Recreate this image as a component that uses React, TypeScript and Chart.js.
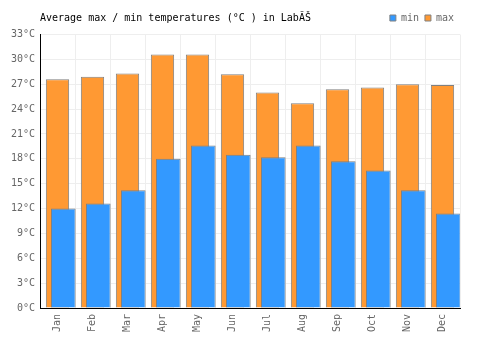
import React, { useEffect, useRef } from "react";
import { Chart, registerables } from "chart.js";

Chart.register(...registerables);

const months = ["Jan", "Feb", "Mar", "Apr", "May", "Jun", "Jul", "Aug", "Sep", "Oct", "Nov", "Dec"];
const maxTemps = [27.6, 27.9, 28.3, 30.6, 30.6, 28.2, 26.0, 24.7, 26.4, 26.6, 27.0, 26.9];
const minTemps = [12.0, 12.6, 14.2, 18.0, 19.6, 18.5, 18.2, 19.6, 17.7, 16.6, 14.2, 11.4];
const yMin = 0;
const yMax = 33;
const yStep = 3;
const unit = "°C";
const titleText = "Average max / min temperatures (°C ) in LabĂŠ";

const FONT = "'DejaVu Sans Mono', monospace";

const titlePlugin = {
  id: "leftTitle",
  afterDraw(chart: any) {
    const ctx = chart.ctx;
    ctx.save();
    ctx.font = "10px " + FONT;
    ctx.fillStyle = "#000";
    ctx.textBaseline = "middle";
    ctx.textAlign = "left";
    ctx.fillText(titleText, chart.chartArea.left, 18);
    ctx.restore();
  },
};

export default function App() {
  const ref = useRef<HTMLCanvasElement | null>(null);
  useEffect(() => {
    if (!ref.current) return;
    const shift = 0.166;
    const chart = new Chart(ref.current, {
      type: "bar",
      data: {
        labels: months,
        datasets: [
          {
            label: "min",
            data: minTemps.map((v, i) => ({ x: i, y: v })) as any,
            backgroundColor: "#3399ff",
            borderColor: "#808080",
            borderWidth: 1,
            xAxisID: "x2",
            grouped: false,
            categoryPercentage: 1,
            barPercentage: 0.705,
          },
          {
            label: "max",
            data: maxTemps,
            backgroundColor: "#ff9933",
            borderColor: "#808080",
            borderWidth: 1,
            xAxisID: "x",
            grouped: false,
            categoryPercentage: 1,
            barPercentage: 0.666,
          },
        ],
      },
      options: {
        responsive: false,
        animation: false,
        devicePixelRatio: 1,
        layout: { padding: { top: 7, right: 40, left: 0, bottom: 0 } },
        plugins: {
          title: { display: false },
          tooltip: { enabled: false },
          legend: {
            display: true,
            position: "top",
            align: "end",
            labels: {
              boxWidth: 6,
              boxHeight: 6,
              padding: 6,
              color: "#666",
              font: { family: FONT, size: 10 },
            },
          },
        },
        scales: {
          x: {
            type: "category",
            position: "bottom",
            offset: true,
            grid: { color: "#eeeeee", offset: true, drawTicks: false },
            border: { color: "#000", width: 1 },
            ticks: {
              color: "#666",
              font: { family: FONT, size: 10 },
              minRotation: 90,
              maxRotation: 90,
              padding: 6,
            },
            afterFit: (s: any) => {
              s.height = 42;
            },
          },
          x2: {
            type: "linear",
            position: "top",
            display: true,
            offset: false,
            bounds: "data",
            grace: 0,
            min: -0.5 - shift,
            max: months.length - 0.5 - shift,
            grid: { display: false, offset: false },
            border: { display: false },
            ticks: { display: false },
            afterFit: (s: any) => {
              s.height = 1.5;
            },
          },
          y: {
            min: yMin,
            max: yMax,
            grid: { color: "#eeeeee", drawTicks: false },
            border: { color: "#000", width: 1 },
            ticks: {
              stepSize: yStep,
              color: "#666",
              font: { family: FONT, size: 10 },
              padding: 5,
              callback: (v: any) => v + unit,
            },
            afterFit: (s: any) => {
              s.width = 40;
            },
          },
        },
      },
      plugins: [titlePlugin],
    });
    return () => chart.destroy();
  }, []);
  return (
    <div style={{ position: "absolute", left: 0, top: 0, width: 500, height: 350 }}>
      <canvas ref={ref} width={500} height={350} />
    </div>
  );
}
